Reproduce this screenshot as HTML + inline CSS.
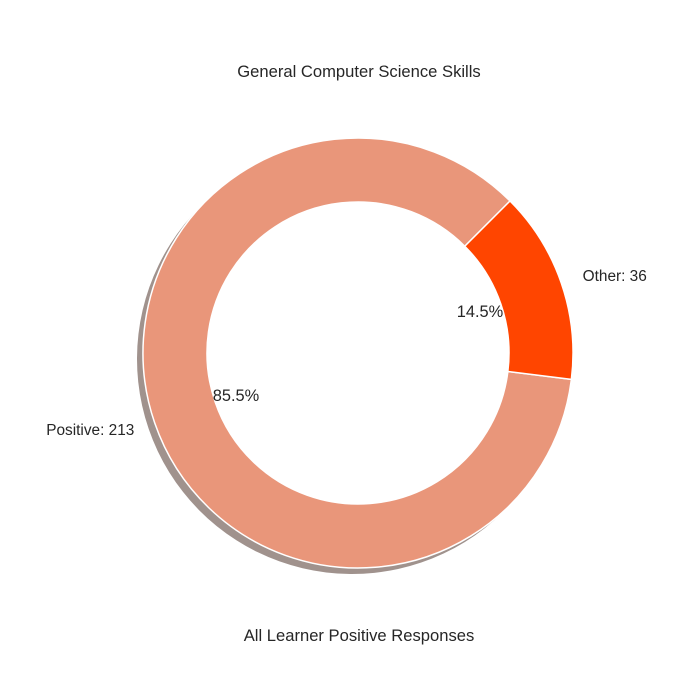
<!DOCTYPE html>
<html><head><meta charset="utf-8"><style>
body{margin:0;background:#fff}
svg{display:block;font-family:"Liberation Sans","DejaVu Sans",sans-serif}
</style></head><body>
<svg id="chart" width="700" height="700" viewBox="0 0 700 700">
<text x="359" y="77" text-anchor="middle" font-size="16.6" fill="#262626">General Computer Science Skills</text>
<g id="shadow"></g>
<g id="slices"></g>
<circle cx="358" cy="353" r="151" fill="#fff"/>
<g id="labels"></g>
<text x="359" y="641" text-anchor="middle" font-size="16.6" fill="#262626">All Learner Positive Responses</text>
</svg>
<script>
const categories = ["Positive", "Other"];
const values = [213, 36];
const colors = ["#E9967A", "#FF4500"];
const startAngle = 45;
const cx = 358, cy = 353, R = 215, r = 151;
const NS = "http://www.w3.org/2000/svg";
const total = values.reduce((a, b) => a + b, 0);
function pt(rad, deg) { const a = deg * Math.PI / 180; return [cx + rad * Math.cos(a), cy - rad * Math.sin(a)]; }
function arcPath(a0, a1, ox, oy) {
  const large = (a1 - a0) > 180 ? 1 : 0;
  const p0 = pt(R, a0), p1 = pt(R, a1), q1 = pt(r, a1), q0 = pt(r, a0);
  return `M${p0[0]+ox},${p0[1]+oy} A${R},${R} 0 ${large} 0 ${p1[0]+ox},${p1[1]+oy} L${q1[0]+ox},${q1[1]+oy} A${r},${r} 0 ${large} 1 ${q0[0]+ox},${q0[1]+oy} Z`;
}
const sh = document.getElementById("shadow");
const sg = document.getElementById("slices");
const lg = document.getElementById("labels");
let a = startAngle;
values.forEach((v, i) => {
  const span = v / total * 360;
  const a0 = a, a1 = a + span;
  const s = document.createElementNS(NS, "path");
  s.setAttribute("d", arcPath(a0, a1, -6, 6));
  s.setAttribute("fill", "#8f7f79");
  s.setAttribute("opacity", "0.85");
  
  
  sh.appendChild(s);
  const p = document.createElementNS(NS, "path");
  p.setAttribute("d", arcPath(a0, a1, 0, 0));
  p.setAttribute("fill", colors[i]);
  p.setAttribute("stroke", "#fff");
  p.setAttribute("stroke-width", "1.5");
  
  
  sg.appendChild(p);
  const mid = (a0 + a1) / 2;
  const lp = pt(R * 1.1, mid);
  const t = document.createElementNS(NS, "text");
  t.setAttribute("x", lp[0] + (Math.cos(mid * Math.PI / 180) < 0 ? 0 : 1)); t.setAttribute("y", lp[1] + 5);
  t.setAttribute("text-anchor", Math.cos(mid * Math.PI / 180) < 0 ? "end" : "start");
  t.setAttribute("font-size", "15.4"); t.setAttribute("fill", "#262626");
  t.textContent = categories[i] + ": " + v;
  
  
  lg.appendChild(t);
  const pp = pt(R * 0.6, mid);
  const pc = document.createElementNS(NS, "text");
  pc.setAttribute("x", pp[0]); pc.setAttribute("y", pp[1] + 6);
  pc.setAttribute("text-anchor", "middle");
  pc.setAttribute("font-size", "16.4"); pc.setAttribute("fill", "#262626");
  pc.textContent = (v / total * 100).toFixed(1) + "%";
  
  
  lg.appendChild(pc);
  a = a1;
});
</script>
</body></html>
